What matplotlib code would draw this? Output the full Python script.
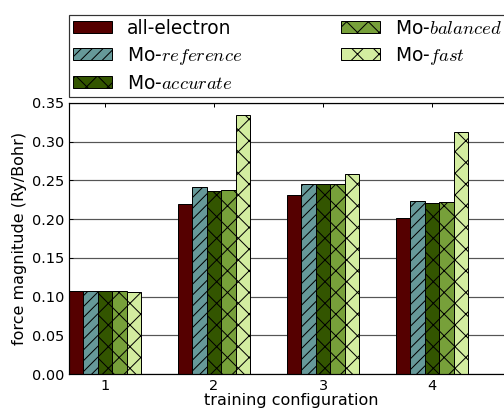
import numpy as np
import matplotlib
matplotlib.use('Agg')
import matplotlib.pyplot as plt

DPI = 130.
def px(v):
    # pixel size -> points at the output dpi
    return v * 72. / DPI

matplotlib.rcParams['mathtext.fontset'] = 'cm'
matplotlib.rcParams['font.size'] = px(14.5)
matplotlib.rcParams['hatch.linewidth'] = px(1.0)
matplotlib.rcParams['axes.linewidth'] = px(1.2)

configs = ['1', '2', '3', '4']
labels = ['all-electron', r'Mo-$reference$', r'Mo-$accurate$',
          r'Mo-$balanced$', r'Mo-$fast$']
all_electron = [0.107, 0.219, 0.231, 0.202]
mo_reference = [0.107, 0.241, 0.245, 0.224]
mo_accurate = [0.107, 0.236, 0.245, 0.221]
mo_balanced = [0.107, 0.237, 0.245, 0.222]
mo_fast = [0.106, 0.334, 0.258, 0.313]

series = [all_electron, mo_reference, mo_accurate, mo_balanced, mo_fast]
colors = ['#550000', '#669999', '#335500', '#77a03a', '#d3eda0']
hatches = ['', '////', 'xx', 'xx', 'xx']

fig = plt.figure(figsize=(504/DPI, 411/DPI), dpi=DPI)
ax = fig.add_axes([69/504., 1-374/411., 445/504., 271/411.])

ind = np.arange(1, len(configs)+1)
width = 0.132
for k, (vals, c, h, lab) in enumerate(zip(series, colors, hatches, labels)):
    ax.bar(ind + (k-2)*width, vals, width, color=c, hatch=h, label=lab,
           edgecolor='black', linewidth=px(1.0), zorder=2)

ax.set_xlim(1-2.5*width, 1-2.5*width + 445/109.)
ax.set_ylim(0, 0.35)
ax.set_xticks(ind)
ax.set_xticklabels(configs)
ax.set_yticks(np.arange(0, 0.351, 0.05))
ax.set_yticklabels(['%.2f' % v for v in np.arange(0, 0.351, 0.05)])
ax.tick_params(direction='in', top=True, right=True, length=px(4),
               width=px(1), pad=px(5))
ax.yaxis.grid(True, color='#555555', linestyle='-', linewidth=px(1.2), zorder=0)
ax.set_axisbelow(True)
ax.set_xlabel('training configuration', fontsize=px(16), labelpad=px(0))
ax.set_ylabel('force magnitude (Ry/Bohr)', fontsize=px(16), labelpad=px(5))

leg = fig.legend(loc='lower left', bbox_to_anchor=(69/504., 1-97/411.),
                 ncol=2, borderaxespad=0, fancybox=False,
                 handlelength=2.1, handleheight=0.6, handletextpad=0.8,
                 labelspacing=0.38, borderpad=0.22, columnspacing=5.3,
                 fontsize=px(18.6))
leg.get_frame().set_edgecolor('black')
leg.get_frame().set_linewidth(px(1.2))

fig.savefig('out.png', dpi=DPI)
